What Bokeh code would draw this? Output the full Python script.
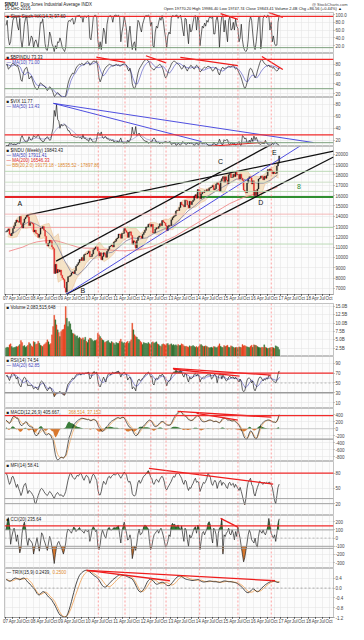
from bokeh.plotting import figure
from bokeh.layouts import column
from bokeh.models import Range1d, FixedTicker, Span, Label, CustomJSTickFormatter
from bokeh.embed import file_html
from bokeh.resources import INLINE
from bokeh.core.properties import value

FONT = "Liberation Sans"

# ---------------- DATA (semi-monthly samples, Jan 2007 .. mid-Dec 2016) ----------------
dji_close = [
    12500, 12620, 12770, 12270, 12110, 12350, 12800, 13060, 13380, 13630, 13490, 13410,
    13970, 13210, 12850, 13360, 13740, 13900, 14090, 13930, 13110, 13370, 13340, 13260,
    12470, 12650, 12350, 12270, 11950, 12260, 12850, 12820, 12990, 12640, 12060, 11350,
    11100, 11380, 11660, 11540, 11020, 10850, 8450, 9330, 8500, 8830, 8600, 8780,
    8280, 8000, 7850, 7060, 6630, 7620, 8130, 8170, 8270, 8500, 8600, 8450,
    8740, 9170, 9320, 9500, 9790, 9710, 9990, 9710, 10270, 10340, 10330, 10430,
    10610, 10070, 10100, 10330, 10740, 10860, 11020, 11010, 10620, 10140, 10450, 9770,
    10100, 10460, 10300, 10010, 10600, 10790, 11060, 11120, 11200, 11010, 11490, 11580,
    11790, 11890, 12270, 12230, 11860, 12320, 12340, 12810, 12600, 12440, 11950, 12410,
    12480, 12140, 11270, 11610, 11510, 10910, 11640, 11960, 12080, 12050, 11870, 12220,
    12420, 12630, 12950, 12950, 13230, 13210, 13000, 13210, 12370, 12390, 12740, 12880,
    12820, 13010, 13270, 13090, 13590, 13440, 13340, 13100, 12590, 13020, 13130, 13100,
    13650, 13860, 13980, 14050, 14510, 14580, 14550, 14840, 15350, 15120, 15070, 14910,
    15540, 15500, 15080, 14810, 15450, 15130, 15400, 15550, 15960, 16090, 15750, 16580,
    16460, 15700, 16150, 16320, 16300, 16460, 16410, 16580, 16490, 16720, 16780, 16830,
    16980, 16560, 16660, 17100, 17280, 17040, 16380, 17390, 17630, 17830, 17280, 17820,
    17510, 17160, 18020, 18130, 17750, 17780, 18060, 17840, 18270, 18010, 18040, 17620,
    18080, 17690, 17480, 16530, 16380, 16280, 17210, 17660, 17820, 17720, 17130, 17430,
    15990, 16470, 16000, 16640, 17600, 17680, 17900, 17770, 17530, 17870, 17680, 17930,
    18520, 18430, 18580, 18400, 18120, 18310, 18140, 18160, 18870, 19150, 19843.43,
]
dji_prev_2006 = 12463

stoch = [
    72, 85, 40, 22, 30, 60, 85, 92, 95, 92, 70, 60, 90, 35, 15, 40, 75, 90, 95, 70, 20, 30, 45, 40,
    15, 30, 35, 25, 15, 45, 80, 78, 88, 60, 25, 10, 8, 25, 55, 45, 25, 18, 5, 20, 12, 30, 28, 40,
    30, 15, 10, 5, 15, 55, 80, 85, 82, 88, 90, 75, 80, 95, 96, 97, 98, 92, 96, 80, 95, 96, 92, 96,
    97, 40, 35, 60, 92, 97, 98, 95, 35, 12, 30, 10, 35, 65, 55, 25, 75, 92, 96, 97, 95, 80, 96, 98,
    98, 96, 98, 92, 30, 55, 70, 95, 80, 60, 15, 50, 70, 35, 10, 25, 30, 8, 55, 85, 80, 65, 55, 75,
    85, 95, 97, 96, 98, 96, 70, 80, 20, 15, 55, 70, 65, 80, 92, 85, 97, 85, 60, 40, 15, 45, 55, 50,
    90, 97, 96, 95, 98, 98, 90, 95, 98, 85, 60, 45, 90, 88, 55, 25, 75, 55, 60, 80, 95, 97, 60, 95,
    85, 20, 45, 70, 65, 78, 70, 85, 80, 92, 93, 90, 95, 50, 50, 85, 95, 75, 15, 70, 95, 97, 55, 85,
    55, 30, 85, 95, 60, 62, 80, 60, 88, 70, 65, 30, 40, 75, 35, 15, 8, 5, 10, 35, 80, 95, 85, 50,
    20, 10, 30, 60, 92, 96, 12, 40, 90, 97, 95, 92, 98, 96, 60, 80, 30, 45, 25, 20, 22, 80, 97.6,
]

bpindu = [
    78, 80, 70, 72, 76, 80, 82, 80, 78, 76, 78, 70, 62, 48, 45, 60, 68, 72, 74, 66, 50, 52, 56, 48,
    40, 34, 30, 28, 30, 38, 42, 40, 38, 36, 34, 30, 26, 30, 34, 32, 28, 22, 14, 16, 20, 22, 20, 16,
    14, 12, 13, 12, 16, 28, 40, 48, 54, 58, 62, 60, 66, 72, 76, 78, 80, 79, 82, 80, 78, 82, 84, 86,
    84, 78, 80, 84, 86, 86, 85, 87, 72, 52, 44, 50, 58, 66, 70, 74, 76, 78, 80, 79, 78, 76, 77, 78,
    80, 78, 79, 76, 77, 79, 80, 81, 80, 78, 70, 66, 72, 60, 40, 32, 30, 36, 50, 62, 70, 74, 78, 82,
    86, 88, 90, 89, 86, 82, 74, 72, 70, 68, 72, 74, 76, 78, 80, 78, 74, 68, 58, 52, 55, 62, 70, 74,
    80, 84, 86, 86, 84, 82, 80, 78, 74, 70, 72, 78, 76, 70, 66, 72, 74, 78, 76, 72, 70, 74, 78, 76,
    72, 64, 66, 70, 72, 74, 72, 74, 76, 75, 74, 70, 66, 68, 72, 74, 70, 62, 58, 66, 72, 74, 70, 72,
    72, 74, 76, 75, 74, 76, 78, 74, 70, 72, 68, 62, 58, 52, 44, 36, 30, 34, 42, 56, 68, 72, 70, 64,
    58, 52, 56, 66, 74, 82, 88, 90, 86, 82, 80, 78, 76, 78, 74, 76, 72, 74, 70, 68, 66, 68, 73.33,
]
bpindu_ma_monthly = [
    80, 78, 76, 78, 79, 78, 74, 62, 58, 64, 62, 56,
    46, 38, 36, 38, 36, 34, 30, 30, 30, 24, 20, 18,
    15, 13, 16, 30, 46, 56, 62, 70, 76, 78, 80, 82,
    82, 80, 82, 84, 80, 66, 56, 60, 68, 74, 77, 78,
    78, 78, 78, 79, 78, 74, 68, 52, 40, 40, 52, 66,
    76, 82, 86, 84, 78, 74, 73, 74, 76, 72, 64, 62,
    68, 76, 82, 82, 80, 76, 74, 73, 72, 74, 74, 74,
    72, 68, 68, 70, 72, 73, 74, 72, 70, 68, 66, 68,
    74, 74, 75, 74, 74, 70, 64, 56, 46, 44, 52, 58,
    56, 52, 58, 66, 72, 76, 78, 77, 76, 75, 72, 71,
]

vix = [
    11, 11, 10.5, 15, 14, 14.5, 12.5, 14, 13, 13, 15, 16, 15, 24, 28, 23, 20, 18, 17, 19, 26, 22, 20, 22,
    28, 26, 25, 26, 30, 26, 21, 20, 17, 18, 22, 24, 26, 23, 20, 21, 32, 40, 70, 60, 80, 55, 52, 40,
    47, 44, 45, 46, 45, 41, 36, 36, 32, 28, 28, 26, 26, 25, 25, 26, 24, 25, 22, 30, 23, 24, 21, 21,
    18, 24, 23, 19, 17, 17, 16, 22, 33, 32, 28, 34, 25, 23, 26, 26, 22, 23, 20, 21, 19, 21, 17, 18,
    16, 19, 16, 20, 24, 17, 16, 15, 17, 15, 20, 17, 20, 25, 42, 31, 31, 43, 28, 30, 32, 27, 25, 23,
    20, 19, 18, 18, 15, 16, 18, 17, 22, 24, 21, 17, 16, 17, 14, 17, 15, 16, 17, 18, 17, 16, 17, 18,
    13, 14, 15, 16, 12, 12, 15, 13, 12, 14, 18, 16, 14, 13, 14, 17, 14, 16, 15, 13, 12, 13, 16, 13,
    12, 18, 16, 14, 15, 15, 16, 14, 12, 11, 11, 11, 12, 17, 14, 12, 13, 16, 22, 16, 13, 13, 21, 19,
    21, 21, 14, 13, 16, 15, 14, 15, 12, 13, 15, 18, 12, 12, 28, 26, 22, 24, 16, 15, 20, 16, 24, 18,
    27, 21, 25, 20, 15, 14, 13, 15, 15, 14, 20, 16, 13, 12, 12, 12, 15, 13, 16, 17, 14, 13, 11.77,
]
vix_ma_quarterly = [12, 13, 17, 21, 24, 22, 24, 40, 48, 38, 28, 25, 21, 24, 25, 21, 18, 18, 22, 30,
                    22, 19, 17, 17, 15, 15, 15, 15, 14, 13, 13, 15, 17, 14, 17, 19, 20, 16, 14, 14]

ma50_quarterly = [12200, 12500, 13100, 13500, 13200, 12800, 12200, 11200, 9800, 8600, 8300, 8900,
                  9700, 10300, 10400, 10500, 11000, 11600, 11900, 11800, 11900, 12300, 12600, 12900,
                  13200, 13800, 14500, 15000, 15600, 16000, 16400, 16800, 17200, 17600, 17600, 17400,
                  17200, 17200, 17500, 18000]
ma200_quarterly = [10600, 10800, 11000, 11300, 11500, 11600, 11650, 11600, 11400, 11200, 11000, 10900,
                   10900, 10800, 10750, 10700, 10650, 10650, 10700, 10750, 10900, 11100, 11400, 11700,
                   12000, 12400, 12800, 13200, 13600, 14000, 14400, 14800, 15200, 15500, 15800, 16000,
                   16200, 16400, 16600, 16800]
bb_upper_bimonthly = [12800, 12900, 13800, 14100, 14100, 14300, 14200, 13000, 13200, 13300, 11900, 12300,
                      9700, 9300, 8800, 9100, 9900, 10500, 10800, 11000, 11500, 10900, 10800, 11500,
                      12000, 12500, 13000, 12800, 12800, 12300, 12800, 13400, 13400, 13200, 13700, 13700,
                      14000, 14700, 15500, 15700, 15700, 16100, 16700, 16600, 16800, 17200, 17300, 17900,
                      18100, 18300, 18300, 18300, 18500, 17900, 17900, 17800, 18100, 18600, 18800, 19600]
bb_lower_bimonthly = [12000, 11900, 12000, 12900, 12800, 12900, 12100, 11800, 11900, 10900, 10700, 7600,
                      7900, 6700, 6900, 8000, 8500, 9400, 9900, 9900, 10000, 9600, 9900, 10300,
                      11000, 11600, 11900, 11900, 10700, 10800, 11500, 12300, 12300, 12200, 12700, 12700,
                      12700, 13300, 14000, 14700, 14800, 14900, 15300, 15500, 16000, 16400, 16500, 16200,
                      17100, 17300, 17600, 17300, 15900, 16000, 16200, 15600, 17100, 17300, 17900, 17700]

volume_b = [
    2.6, 2.8, 2.7, 3.5, 3.8, 3.0, 2.6, 2.7, 2.8, 3.0, 2.9, 3.2, 3.6, 4.8, 4.2, 3.1, 3.3, 2.8, 3.0, 3.4, 4.2, 3.8, 3.2, 2.9,
    4.5, 4.3, 3.6, 3.8, 4.6, 4.0, 3.4, 3.2, 3.0, 3.5, 3.8, 4.2, 5.0, 4.4, 3.6, 3.9, 6.5, 9.0, 12.4, 11.0, 9.5, 8.0, 7.2, 6.0,
    7.5, 8.0, 8.2, 9.5, 15.0, 11.5, 9.0, 10.5, 9.8, 8.0, 7.0, 6.8, 6.5, 6.0, 6.2, 5.5, 5.8, 5.5, 5.2, 5.6, 5.0, 5.8, 4.6, 4.2,
    5.0, 5.5, 5.4, 5.0, 4.6, 4.8, 4.8, 5.0, 7.0, 6.5, 6.0, 5.5, 5.0, 4.8, 4.2, 4.4, 4.6, 4.8, 4.2, 4.0, 4.5, 4.2, 4.0, 3.5,
    4.2, 4.0, 4.0, 4.6, 5.2, 4.4, 4.0, 4.2, 4.0, 4.3, 4.6, 4.0, 4.5, 5.0, 10.0, 8.0, 6.5, 6.0, 5.8, 5.2, 5.0, 4.6, 4.2, 3.6,
    4.2, 4.0, 4.0, 3.8, 4.2, 3.8, 3.6, 4.2, 4.4, 4.0, 4.2, 4.4, 3.8, 3.6, 3.2, 3.0, 3.6, 3.8, 3.6, 3.4, 3.8, 3.9, 3.4, 3.6,
    3.8, 3.4, 3.6, 3.3, 3.5, 3.2, 3.6, 3.3, 3.4, 3.8, 3.6, 3.2, 3.0, 3.1, 2.9, 2.8, 3.2, 3.0, 3.1, 3.3, 3.0, 2.8, 3.0, 2.7,
    3.0, 3.5, 3.6, 3.2, 3.0, 3.1, 3.2, 3.0, 2.8, 2.6, 2.7, 2.8, 2.6, 3.0, 2.9, 2.6, 2.8, 3.2, 3.8, 3.1, 2.8, 2.7, 3.3, 3.0,
    3.2, 3.4, 2.8, 2.7, 3.2, 3.0, 2.8, 2.6, 2.7, 2.8, 2.6, 2.9, 2.8, 2.7, 3.6, 3.2, 3.3, 3.1, 2.9, 2.8, 2.7, 3.1, 3.4, 2.8,
    3.5, 3.4, 3.3, 3.0, 2.8, 2.7, 2.6, 2.8, 2.7, 3.5, 2.8, 2.6, 2.4, 2.5, 2.6, 2.7, 2.8, 2.6, 2.4, 3.2, 3.0, 2.8, 2.08,
]

rsi14 = [
    64, 66, 60, 55, 62, 68, 70, 68, 64, 58, 62, 50, 45, 42, 52, 58, 62, 60, 52, 44, 46, 44, 46, 43,
    38, 40, 42, 38, 36, 44, 52, 54, 52, 48, 42, 38, 34, 38, 42, 40, 34, 30, 22, 26, 28, 30, 31, 33,
    30, 28, 26, 25, 30, 40, 48, 50, 54, 56, 60, 58, 62, 66, 68, 68, 70, 66, 69, 70, 68, 70, 70, 71,
    72, 58, 60, 68, 72, 73, 70, 72, 55, 45, 42, 48, 56, 62, 56, 52, 62, 68, 70, 66, 70, 72, 70, 71,
    72, 73, 74, 70, 62, 68, 70, 72, 70, 66, 56, 60, 62, 56, 38, 42, 40, 34, 48, 56, 58, 54, 56, 60,
    62, 66, 68, 70, 72, 70, 62, 64, 48, 46, 56, 60, 58, 62, 66, 64, 68, 66, 60, 54, 44, 52, 54, 56,
    64, 70, 72, 72, 76, 74, 72, 74, 76, 72, 66, 62, 70, 68, 58, 52, 62, 58, 60, 62, 68, 70, 64, 68,
    66, 52, 58, 60, 62, 62, 64, 66, 67, 66, 68, 58, 60, 66, 68, 64, 50, 62, 68, 69, 58, 66, 62, 58,
    54, 56, 62, 64, 60, 62, 62, 58, 62, 58, 56, 52, 58, 52, 36, 32, 34, 44, 56, 60, 60, 58, 50, 54,
    38, 34, 40, 50, 58, 62, 62, 58, 54, 58, 56, 60, 58, 66, 64, 60, 56, 54, 52, 50, 56, 68, 74.54,
]
rsi_ma_monthly = [
    64, 62, 62, 66, 66, 62, 58, 50, 52, 56, 50, 46,
    42, 40, 42, 48, 50, 44, 38, 40, 38, 30, 28, 30,
    29, 27, 32, 44, 52, 57, 62, 66, 68, 68, 69, 70,
    68, 64, 67, 70, 66, 54, 50, 56, 62, 66, 68, 70,
    72, 72, 68, 66, 68, 66, 62, 52, 44, 44, 50, 56,
    62, 66, 70, 68, 62, 56, 58, 62, 64, 62, 54, 54,
    60, 66, 70, 73, 74, 72, 68, 66, 62, 62, 64, 66,
    64, 60, 58, 62, 63, 65, 66, 64, 62, 60, 62, 62,
    58, 58, 60, 60, 59, 58, 56, 48, 40, 44, 52, 56,
    48, 42, 46, 54, 58, 60, 60, 60, 58, 56, 56, 62,
]

macd = [
    250, 220, 170, 150, 200, 280, 340, 360, 350, 300, 310, 240, 150, 100, 90, 130, 170, 200, 190, 120, 80, 60, 50, 40,
    -60, -150, -200, -190, -160, -80, -30, 0, -20, -90, -150, -180, -170, -140, -160, -200, -280, -330, -550, -750, -860, -900, -880, -850,
    -820, -830, -850, -800, -760, -600, -420, -250, -170, -60, 40, 110, 150, 190, 220, 250, 270, 290, 300, 300, 290, 280, 270, 260,
    270, 240, 230, 250, 270, 260, 240, 200, 120, 40, 0, -60, -80, -60, -20, 30, 60, 100, 150, 190, 220, 240, 260, 280,
    300, 320, 320, 300, 300, 330, 330, 310, 250, 180, 120, 60, 40, 10, -30, -110, -170, -200, -190, -150, -80, -20, 30, 60,
    80, 120, 160, 200, 230, 250, 240, 200, 140, 80, 60, 70, 90, 130, 170, 200, 210, 200, 170, 130, 110, 100, 100, 110,
    150, 220, 290, 350, 400, 440, 470, 490, 500, 470, 420, 380, 370, 350, 300, 260, 250, 230, 240, 260, 300, 340, 370, 380,
    360, 300, 240, 210, 200, 200, 210, 220, 240, 250, 250, 240, 220, 200, 210, 220, 200, 180, 170, 200, 260, 300, 310, 300,
    280, 250, 250, 250, 230, 220, 230, 230, 200, 170, 140, 100, 40, -30, -100, -200, -270, -300, -300, -220, -120, -60, -80, -150,
    -230, -280, -300, -230, -120, 0, 110, 150, 180, 210, 230, 240, 250, 250, 240, 220, 200, 190, 190, 180, 220, 300, 405.667,
]
macd_signal = [
    200, 210, 200, 180, 185, 220, 270, 310, 330, 320, 315, 290, 240, 190, 150, 140, 150, 170, 180, 160, 130, 100, 80, 60,
    20, -40, -100, -140, -150, -130, -100, -70, -50, -60, -90, -120, -140, -140, -150, -170, -210, -260, -370, -500, -640, -740, -800, -830,
    -830, -830, -840, -820, -800, -720, -600, -460, -340, -220, -110, -20, 50, 110, 160, 200, 230, 260, 280, 290, 290, 285, 280, 270,
    270, 260, 250, 250, 255, 258, 250, 230, 190, 130, 80, 20, -20, -40, -40, -20, 10, 50, 90, 130, 170, 200, 230, 255,
    275, 295, 305, 305, 305, 315, 322, 318, 290, 250, 200, 140, 100, 60, 20, -30, -90, -140, -160, -160, -130, -80, -30, 10,
    40, 80, 120, 160, 195, 225, 235, 225, 190, 140, 100, 85, 85, 105, 135, 165, 190, 198, 185, 160, 135, 118, 108, 108,
    125, 170, 230, 290, 340, 390, 430, 460, 480, 478, 450, 415, 395, 372, 335, 295, 270, 250, 242, 250, 275, 310, 345, 365,
    365, 335, 290, 250, 225, 210, 208, 214, 228, 240, 246, 244, 232, 216, 212, 216, 208, 192, 180, 188, 225, 265, 290, 298,
    290, 270, 260, 255, 245, 232, 230, 230, 215, 195, 168, 132, 85, 30, -35, -120, -195, -250, -280, -250, -180, -110, -90, -120,
    -180, -235, -275, -255, -180, -80, 20, 90, 140, 180, 210, 228, 240, 246, 244, 232, 215, 200, 195, 186, 205, 260, 368.514,
]

mfi14 = [
    80, 76, 66, 58, 62, 72, 74, 68, 60, 52, 58, 50, 44, 36, 42, 52, 58, 60, 50, 40, 46, 44, 42, 38,
    34, 22, 20, 28, 36, 42, 48, 50, 48, 44, 40, 38, 36, 40, 44, 42, 38, 34, 30, 36, 40, 42, 38, 36,
    38, 35, 34, 38, 44, 55, 66, 74, 80, 78, 72, 70, 68, 72, 76, 74, 78, 80, 76, 70, 66, 72, 76, 74,
    70, 60, 66, 74, 78, 76, 70, 66, 48, 38, 37, 44, 56, 64, 60, 58, 66, 72, 74, 70, 74, 76, 78, 76,
    78, 80, 78, 74, 70, 74, 78, 82, 80, 76, 66, 62, 64, 56, 40, 36, 35, 38, 50, 62, 66, 60, 64, 70,
    74, 76, 78, 82, 85, 80, 72, 70, 60, 58, 64, 68, 66, 62, 68, 72, 74, 70, 62, 50, 47, 52, 56, 60,
    64, 70, 74, 72, 78, 80, 80, 78, 74, 70, 62, 58, 66, 64, 52, 46, 52, 50, 56, 60, 66, 70, 62, 64,
    60, 44, 50, 56, 62, 60, 64, 70, 80, 76, 72, 60, 56, 62, 66, 62, 50, 58, 64, 66, 56, 62, 60, 58,
    52, 50, 60, 62, 56, 58, 60, 52, 58, 54, 50, 46, 52, 44, 35, 25, 18, 30, 50, 62, 66, 70, 58, 54,
    40, 35, 44, 52, 58, 64, 62, 60, 58, 62, 60, 62, 60, 62, 62, 58, 52, 40, 26, 20, 36, 52, 58.41,
]

cci20 = [
    100, 190, 250, 160, -75, 20, 80, 120, 60, -40, 40, -80, -180, -120, 60, 150, 195, 120, -20, -90, 0, -30, -40, -70,
    -195, -120, -60, 5, -80, -160, -60, 65, 40, -20, -60, -110, -150, -60, 20, -20, -110, -200, -310, -200, -110, -60, -40, -80,
    -110, -150, -195, -140, -60, 60, 110, 100, 80, 60, 100, 135, 120, 80, 100, 110, 130, 100, 90, 80, 60, 100, 90, 80,
    100, -40, 20, 110, 140, 120, 80, 100, -100, -140, -80, 40, 100, 60, 20, 0, 80, 120, 130, 100, 100, 110, 130, 120,
    130, 140, 150, 40, -60, 80, 140, 195, 120, 60, -25, -10, 40, -20, -250, -180, -100, -150, -60, 50, 110, 40, 50, 80,
    140, 160, 150, 130, 110, -40, -140, -100, -20, 40, 60, 80, 100, 60, 100, 120, 80, 30, -40, -110, -90, -40, 40, 20,
    150, 180, 160, 170, 120, 150, 160, 120, 100, 150, 40, -40, 120, 100, -20, -100, 40, 0, 30, 80, 120, 140, 60, 160,
    140, -140, -40, 60, 80, 40, 80, 110, 180, 200, 160, 20, -60, 120, 100, 40, -110, 60, 120, 140, 240, -195, 40, 20,
    60, 80, 120, 50, 40, 100, 60, -20, 80, 20, 135, 60, -5, -110, -200, -290, -240, -150, -60, 40, 100, 60, -20, -40,
    -60, 0, -80, -110, 20, 100, 80, 60, 100, 60, 40, 80, 140, 240, 150, 60, 30, 0, 40, -40, 60, 180, 235.64,
]

trix = [
    0.35, 0.33, 0.30, 0.28, 0.29, 0.32, 0.36, 0.39, 0.41, 0.40, 0.38, 0.36, 0.34, 0.36, 0.39, 0.41, 0.40, 0.36, 0.30, 0.24, 0.20, 0.16, 0.10, 0.04,
    0.00, -0.06, -0.14, -0.22, -0.27, -0.28, -0.24, -0.18, -0.15, -0.15, -0.18, -0.24, -0.30, -0.36, -0.40, -0.44, -0.50, -0.58, -0.65, -0.74, -0.84, -0.94, -1.03, -1.10,
    -1.12, -1.16, -1.18, -1.19, -1.18, -1.12, -1.02, -0.88, -0.72, -0.55, -0.36, -0.18, 0.00, 0.16, 0.30, 0.42, 0.52, 0.58, 0.63, 0.67, 0.70, 0.72, 0.73, 0.72,
    0.70, 0.66, 0.62, 0.58, 0.54, 0.50, 0.47, 0.44, 0.40, 0.33, 0.25, 0.17, 0.10, 0.06, 0.04, 0.05, 0.09, 0.14, 0.19, 0.24, 0.29, 0.34, 0.38, 0.41,
    0.45, 0.49, 0.52, 0.54, 0.54, 0.53, 0.52, 0.51, 0.50, 0.48, 0.46, 0.44, 0.42, 0.40, 0.37, 0.30, 0.22, 0.12, 0.02, -0.07, -0.13, -0.16, -0.15, -0.10,
    -0.04, 0.04, 0.14, 0.24, 0.31, 0.35, 0.36, 0.35, 0.31, 0.25, 0.19, 0.16, 0.16, 0.18, 0.21, 0.23, 0.24, 0.23, 0.20, 0.16, 0.12, 0.10, 0.10, 0.12,
    0.17, 0.23, 0.29, 0.35, 0.40, 0.45, 0.48, 0.49, 0.49, 0.47, 0.44, 0.41, 0.38, 0.36, 0.35, 0.34, 0.33, 0.32, 0.31, 0.31, 0.32, 0.33, 0.34, 0.35,
    0.34, 0.31, 0.28, 0.26, 0.25, 0.25, 0.26, 0.27, 0.28, 0.29, 0.29, 0.28, 0.27, 0.26, 0.26, 0.26, 0.25, 0.24, 0.23, 0.24, 0.26, 0.28, 0.29, 0.29,
    0.28, 0.27, 0.26, 0.26, 0.26, 0.25, 0.24, 0.23, 0.22, 0.20, 0.17, 0.14, 0.10, 0.06, 0.02, -0.04, -0.10, -0.15, -0.18, -0.19, -0.17, -0.12, -0.07, -0.03,
    -0.04, -0.08, -0.13, -0.15, -0.13, -0.09, -0.04, 0.01, 0.05, 0.10, 0.14, 0.17, 0.20, 0.23, 0.25, 0.27, 0.28, 0.29, 0.28, 0.26, 0.24, 0.23, 0.2439,
]
trix_signal_monthly = [
    0.36, 0.31, 0.29, 0.31, 0.36, 0.39, 0.38, 0.36, 0.39, 0.39, 0.30, 0.20,
    0.03, -0.12, -0.24, -0.26, -0.20, -0.16, -0.22, -0.34, -0.43, -0.55, -0.75, -0.95,
    -1.10, -1.17, -1.16, -1.05, -0.85, -0.58, -0.30, -0.04, 0.22, 0.44, 0.58, 0.67,
    0.69, 0.67, 0.60, 0.53, 0.47, 0.40, 0.28, 0.15, 0.07, 0.06, 0.13, 0.23,
    0.33, 0.42, 0.49, 0.53, 0.53, 0.51, 0.48, 0.41, 0.28, 0.10, -0.08, -0.15,
    -0.10, 0.02, 0.17, 0.30, 0.35, 0.32, 0.24, 0.18, 0.18, 0.22, 0.22, 0.17,
    0.12, 0.16, 0.26, 0.37, 0.45, 0.48, 0.47, 0.42, 0.38, 0.35, 0.33, 0.32,
    0.33, 0.32, 0.28, 0.26, 0.26, 0.27, 0.28, 0.28, 0.26, 0.25, 0.24, 0.26,
    0.28, 0.27, 0.26, 0.25, 0.23, 0.20, 0.15, 0.08, -0.02, -0.12, -0.17, -0.16,
    -0.10, -0.12, -0.14, -0.09, -0.01, 0.08, 0.16, 0.22, 0.26, 0.28, 0.27, 0.25,
]

# annotation values (dates as decimal years, values in panel units)
signal_dates = [2010.37, 2011.34, 2012.28, 2012.83, 2014.05, 2015.44, 2016.65]
price_lbl_text = ["A", "B", "C", "D", "E", "8"]
price_lbl_x = [2007.52, 2009.81, 2014.81, 2016.27, 2016.76, 2017.66]
price_lbl_y = [15200, 6778, 19278, 15296, 20200, 16870]
price_lbl_color = ["#111111", "#111111", "#111111", "#111111", "#111111", "#2e8b2e"]
trend_x0 = [2007.78, 2008.84, 2009.19]
trend_y0 = [14100, 9648, 6407]
trend_x1 = [2018.91, 2018.56, 2018.91]
trend_y1 = [20300, 23722, 19740]
blue_x0, blue_y0, blue_x1, blue_y1 = [2009.19], [6407], [2018.87], [22796]
level_y = [18350, 17300, 16400, 14200, 11300]
level_color = ["#b7d7b0", "#c7dcc2", "#b7d7b0", "#f3b0b0", "#b7d7b0"]
split_levels = [15850, 12900]
split_at = [2014.0, 2011.3]
split_left = ["#e52424", "#f3a0a0"]
split_right = ["#2f8f2f", "#a8cfa0"]
split_width = [2.0, 0.9]

# ---------------- helpers ----------------
N = len(dji_close)
x_semi = [2007 + (i + 0.5) / 24 for i in range(N)]


def xs(series, per_year):
    return [2007 + (i + 0.5) / per_year for i in range(len(series))]


X0, X1 = 2006.965, 2018.91
xr = Range1d(X0, X1)
FW = 329
q_ticks = [2007 + k * 0.25 for k in range(48)]
x_fmt = CustomJSTickFormatter(code="""
const y = Math.floor(tick + 1e-6); const f = tick - y;
if (f < 0.1) { const s = String(y % 100); return s.length < 2 ? '0' + s : s; }
if (f < 0.3) return 'Apr'; if (f < 0.6) return 'Jul'; return 'Oct';
""")


def mk(fh, yrng, yticks, code, xaxis=False):
    p = figure(frame_width=FW, frame_height=fh, x_range=xr, y_range=Range1d(*yrng),
               output_backend="svg", toolbar_location=None,
               x_axis_location="below" if xaxis else None, y_axis_location="right",
               min_border_left=4, min_border_right=0, min_border_top=0, min_border_bottom=0,
               background_fill_color="#fcfcfc", border_fill_color="white",
               outline_line_color="#9a9a9a", outline_line_width=0.6)
    ya = p.yaxis[0]
    ya.ticker = FixedTicker(ticks=yticks)
    ya.formatter = CustomJSTickFormatter(code=code)
    ya.major_label_text_font_size = "4.5px"
    ya.major_label_text_font = FONT
    ya.major_label_text_color = "#444444"
    ya.axis_line_color = None
    ya.major_tick_line_color = "#999999"
    ya.major_tick_out = 1
    ya.major_tick_in = 0
    ya.minor_tick_line_color = None
    ya.major_label_standoff = 1
    p.xgrid.ticker = FixedTicker(ticks=q_ticks)
    p.xgrid.grid_line_color = "#e2e2e2"
    p.xgrid.grid_line_width = 0.5
    p.ygrid.grid_line_color = "#e2e2e2"
    p.ygrid.grid_line_width = 0.5
    if xaxis:
        xa = p.xaxis[0]
        xa.ticker = FixedTicker(ticks=q_ticks)
        xa.formatter = x_fmt
        xa.major_label_text_font_size = "4.5px"
        xa.major_label_text_font = FONT
        xa.major_label_text_color = "#444444"
        xa.axis_line_color = "#9a9a9a"
        xa.major_tick_out = 1
        xa.major_tick_in = 0
        xa.minor_tick_line_color = None
        xa.major_label_standoff = 0
    for d in signal_dates:
        p.add_layout(Span(location=d, dimension="height", line_color="#ff7b7b",
                          line_dash="2 2", line_width=0.7))
    return p


def hline(p, v, color, w=1.0, dash="solid"):
    p.add_layout(Span(location=v, dimension="width", line_color=color, line_width=w, line_dash=dash))


def lbl(p, y, text, k=0, color="#222222", xoff=0, bold=False):
    p.add_layout(Label(x=X0, y=y, x_offset=2 + xoff, y_offset=-1 - 5 * k, text=text,
                       text_font=FONT, text_font_size="4.5px", text_color=color,
                       text_baseline="top", text_font_style="bold" if bold else "normal"))


def seg(p, x0, y0, x1, y1, color="#ee1c1c", w=1.3):
    p.segment(x0=x0, y0=y0, x1=x1, y1=y1, line_color=color, line_width=w)


fmt_int = "return tick.toFixed(0);"
fmt_1 = "return tick.toFixed(1);"

# ---------------- header ----------------
hdr = figure(frame_width=344, frame_height=12, x_range=Range1d(0, 1), y_range=Range1d(0, 1),
             output_backend="svg", toolbar_location=None, x_axis_location=None, y_axis_location=None,
             min_border_left=4, min_border_right=0, min_border_top=0, min_border_bottom=0,
             outline_line_color=None, border_fill_color="white", background_fill_color="white")
hdr.xgrid.visible = False
hdr.ygrid.visible = False
hdr.add_layout(Label(x=0, y=1, y_offset=-1.5, text="$INDU", text_font=FONT, text_font_size="4.5px",
                     text_font_style="bold", text_baseline="top", text_color="#222222"))
hdr.add_layout(Label(x=0, y=1, x_offset=16, y_offset=-1.5, text="Dow Jones Industrial Average  INDX",
                     text_font=FONT, text_font_size="4.5px", text_baseline="top", text_color="#222222"))
hdr.add_layout(Label(x=0, y=0, y_offset=1.5, text="16-Dec-2016", text_font=FONT, text_font_size="4.5px",
                     text_baseline="bottom", text_color="#222222"))
hdr.add_layout(Label(x=1, y=1, x_offset=-1, y_offset=-1.5, text="@ StockCharts.com", text_font=FONT,
                     text_font_size="4px", text_baseline="top", text_align="right", text_color="#444444"))
hdr.add_layout(Label(x=1, y=0, x_offset=-1, y_offset=1.5,
                     text="Open 19770.20  High 19986.40  Low 19747.74  Close 19843.41  Volume 2.4B  Chg +86.56 (+0.44%) \u25b2",
                     text_font=FONT, text_font_size="4px", text_baseline="bottom", text_align="right",
                     text_color="#222222"))

# ---------------- P1 stochastic ----------------
p1 = mk(41, (0, 105), [20, 40, 60, 80, 100], fmt_1)
hline(p1, 95, "#f02a2a", 1.2)
hline(p1, 15, "#7da07d", 1.0)
p1.line(x_semi, stoch, line_color="#222222", line_width=0.7)
seg(p1, [2014.81, 2016.55], [102, 105], [2015.44, 2017.07], [87.5, 92.5])
lbl(p1, 105, "\u25a0 Slow Stoch %K(14,3) 97.60")

# ---------------- P2 bullish percent ----------------
p2 = mk(44, (12, 102), [20, 40, 60, 80], fmt_int)
hline(p2, 90, "#f02a2a", 1.2)
hline(p2, 30, "#7da07d", 1.0)
p2.line(xs(bpindu_ma_monthly, 12), bpindu_ma_monthly, line_color="#6666cc", line_width=0.7)
p2.line(x_semi, bpindu, line_color="#222222", line_width=0.7)
seg(p2, [2010.30, 2012.10, 2013.35, 2016.31], [94.6, 97.4, 94, 96],
    [2011.34, 2012.83, 2015.44, 2017.07], [84, 82.6, 77.4, 69.4])
lbl(p2, 102, "\u25a0 $BPINDU 73.33")
lbl(p2, 102, "\u2014 MA(10) 71.00", k=1, color="#4444bb")

# ---------------- P3 VIX ----------------
p3 = mk(49, (9.6, 91.6), [20, 40, 60, 80], fmt_int)
hline(p3, 29, "#f02a2a", 1.2)
hline(p3, 16, "#7da07d", 1.0)
p3.line(xs(vix_ma_quarterly, 4), vix_ma_quarterly, line_color="#9a9ad0", line_width=0.7)
p3.line(x_semi, vix, line_color="#222222", line_width=0.7)
seg(p3, [2008.74, 2008.74], [81.8, 81.8], [2018.18, 2014.12], [16.2, 17.8], color="#3b3bdc", w=0.9)
seg(p3, [2014.47], [10.1], [2016.44], [16.7], color="#ee1c1c", w=1.0)
lbl(p3, 91.6, "\u25a0 $VIX 11.77")
lbl(p3, 91.6, "\u2014 MA(50) 13.43", k=1, color="#4444bb")

# ---------------- P4 price ----------------
p4 = mk(148, (6407, 20759), list(range(7000, 20001, 1000)), fmt_int, xaxis=True)
bbx = xs(bb_upper_bimonthly, 6)
p4.varea(x=bbx, y1=bb_lower_bimonthly, y2=bb_upper_bimonthly, fill_color="#f2d9b0", fill_alpha=0.7)
p4.line(bbx, bb_upper_bimonthly, line_color="#e9b98a", line_width=0.5)
p4.line(bbx, bb_lower_bimonthly, line_color="#e9b98a", line_width=0.5)
for lv, c in zip(level_y, level_color):
    hline(p4, lv, c, 0.9)
for lv, xa_, cl, cr, w in zip(split_levels, split_at, split_left, split_right, split_width):
    p4.segment(x0=[X0, xa_], y0=[lv, lv], x1=[xa_, X1], y1=[lv, lv], line_color=[cl, cr], line_width=w)
p4.line(xs(ma200_quarterly, 4), ma200_quarterly, line_color="#f08a8a", line_width=0.9)
p4.line(xs(ma50_quarterly, 4), ma50_quarterly, line_color="#8f8fa8", line_width=0.9)
opens = [dji_prev_2006] + dji_close[:-1]
bot = [min(o, c) for o, c in zip(opens, dji_close)]
top = [max(o, c) for o, c in zip(opens, dji_close)]
ccol = ["#1a1a1a" if c >= o else "#e32020" for o, c in zip(opens, dji_close)]
p4.vbar(x=x_semi, bottom=bot, top=top, width=0.034, fill_color=ccol, line_color=ccol, line_width=0.4)
seg(p4, trend_x0, trend_y0, trend_x1, trend_y1, color="#111111", w=1.3)
seg(p4, blue_x0, blue_y0, blue_x1, blue_y1, color="#3b3bdc", w=0.9)
p4.text(x=price_lbl_x, y=price_lbl_y, text=price_lbl_text, text_color=price_lbl_color,
        text_font=value(FONT), text_font_size="7px", text_align="center", text_baseline="middle")
lbl(p4, 20759, "\u25a0 $INDU (Weekly) 19843.43")
lbl(p4, 20759, "\u2014 MA(50) 17911.41", k=1, color="#4444bb")
lbl(p4, 20759, "\u2014 MA(200) 16546.33", k=2, color="#e02020")
lbl(p4, 20759, "\u2014 BB(20,2.0) 19173.18 - 18535.52 - 17897.86", k=3, color="#e08a30")

# ---------------- P5 volume ----------------
p5 = mk(53, (0, 15.9), [2.5, 5, 7.5, 10, 12.5, 15], "return tick.toFixed(1) + 'B';")
vcol = ["#2c6e2c" if c >= o else "#e8401c" for o, c in zip(opens, dji_close)]
p5.vbar(x=x_semi, bottom=0, top=volume_b, width=0.036, fill_color=vcol, line_color=vcol, line_width=0.3)
lbl(p5, 15.9, "\u25a0 Volume 2,083,515,648", color="#222222")

# ---------------- P6 RSI ----------------
p6 = mk(52, (-2, 104), [10, 30, 50, 70, 90], fmt_int)
hline(p6, 70, "#f02a2a", 1.2)
hline(p6, 50, "#aaaaaa", 0.8, "2 2")
hline(p6, 30, "#9a9a9a", 1.5)
p6.varea(x=x_semi, y1=70, y2=[max(v, 70) for v in rsi14], fill_color="#2e7d32")
p6.varea(x=x_semi, y1=30, y2=[min(v, 30) for v in rsi14], fill_color="#d9782d")
p6.line(xs(rsi_ma_monthly, 12), rsi_ma_monthly, line_color="#6666cc", line_width=0.7)
p6.line(x_semi, rsi14, line_color="#222222", line_width=0.7)
seg(p6, [2013.08, 2013.10], [80, 78], [2016.65, 2015.50], [66, 64])
lbl(p6, 104, "\u25a0 RSI(14) 74.54")
lbl(p6, 104, "\u2014 MA(20) 62.85", k=1, color="#4444bb")

# ---------------- P7 MACD ----------------
p7 = mk(53, (-944, 583), [-800, -600, -400, -200, 0, 200, 400], fmt_int)
hline(p7, 380, "#f02a2a", 1.2)
hline(p7, 0, "#b5b5b5", 0.6)
hline(p7, -300, "#9a9a9a", 1.2)
hist = [m - s for m, s in zip(macd, macd_signal)]
p7.varea(x=x_semi, y1=0, y2=[max(h, 0) for h in hist], fill_color="#3a7d3a")
p7.varea(x=x_semi, y1=0, y2=[min(h, 0) for h in hist], fill_color="#d9782d")
p7.line(x_semi, macd_signal, line_color="#f0a050", line_width=0.7)
p7.line(x_semi, macd, line_color="#222222", line_width=0.7)
seg(p7, [2013.25, 2013.94], [500, 444], [2016.65, 2015.44], [333, 250])
lbl(p7, 583, "\u25a0 MACD(12,26,9) 405.667,")
lbl(p7, 583, "368.514, 37.153", color="#e08a30", xoff=62)

# ---------------- P8 MFI ----------------
p8 = mk(54, (-3.3, 103), [20, 50, 80], fmt_int)
hline(p8, 80, "#f02a2a", 1.2)
hline(p8, 30, "#9a9a9a", 0.9)
hline(p8, 20, "#9a9a9a", 0.9)
p8.varea(x=x_semi, y1=80, y2=[max(v, 80) for v in mfi14], fill_color="#2e7d32")
p8.varea(x=x_semi, y1=20, y2=[min(v, 20) for v in mfi14], fill_color="#d9782d")
p8.line(x_semi, mfi14, line_color="#222222", line_width=0.7)
seg(p8, [2012.21], [89.6], [2016.72], [58.6])
lbl(p8, 103, "\u25a0 MFI(14) 58.41")

# ---------------- P9 CCI ----------------
p9 = mk(53, (-371, 276), [-300, -200, -100, 0, 100, 200], fmt_int)
hline(p9, 150, "#f02a2a", 1.2)
hline(p9, 100, "#9a9a9a", 0.9)
hline(p9, 0, "#aaaaaa", 0.8, "2 2")
hline(p9, -100, "#9a9a9a", 0.9)
hline(p9, -125, "#9a9a9a", 0.9)
p9.varea(x=x_semi, y1=100, y2=[max(v, 100) for v in cci20], fill_color="#2e7d32")
p9.varea(x=x_semi, y1=-100, y2=[min(v, -100) for v in cci20], fill_color="#d9782d")
p9.line(x_semi, cci20, line_color="#222222", line_width=0.7)
seg(p9, [2014.81], [241], [2015.44], [135])
lbl(p9, 276, "\u25a0 CCI(20) 235.64")

# ---------------- P10 TRIX ----------------
p10 = mk(49, (-1.2, 0.8), [-1.2, -0.8, -0.4, 0.0, 0.4], fmt_1, xaxis=True)
hline(p10, 0, "#999999", 0.8, "2 2")
p10.line(xs(trix_signal_monthly, 12), trix_signal_monthly, line_color="#f0a050", line_width=0.8)
p10.line(x_semi, trix, line_color="#222222", line_width=0.8)
seg(p10, [2009.95, 2009.95], [0.72, 0.72], [2016.79, 2012.97], [0.30, 0.30])
lbl(p10, 0.8, "\u2014 TRIX(15,9) 0.2439,")
lbl(p10, 0.8, "0.2500", color="#e08a30", xoff=46)

layout = column(hdr, p1, p2, p3, p4, p5, p6, p7, p8, p9, p10, spacing=0)
open("out.html", "w").write(file_html(layout, INLINE))
